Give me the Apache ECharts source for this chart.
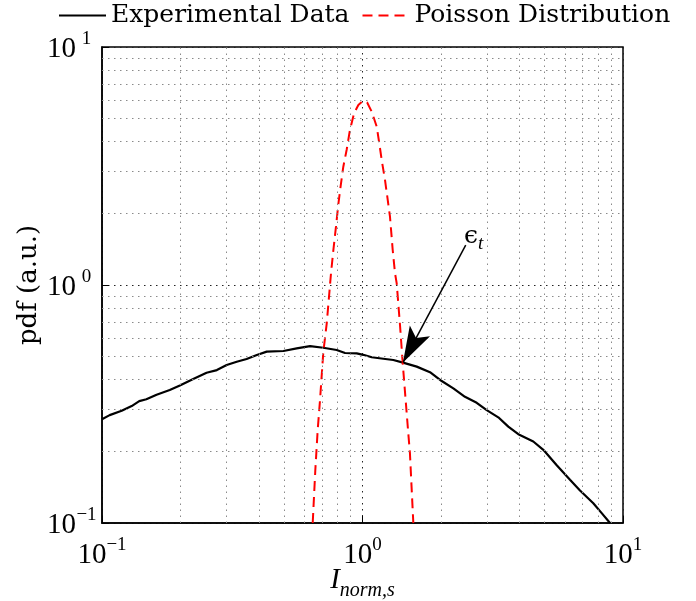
<!DOCTYPE html>
<html><head><meta charset="utf-8">
<script src="https://cdn.jsdelivr.net/npm/echarts@6/dist/echarts.min.js"></script>
<style>html,body{margin:0;padding:0;background:#fff}#c{width:696px;height:601px}</style>
</head><body><div id="c"></div>
<script>
// ---- data ----
const expX = [0.100,0.107,0.119,0.130,0.139,0.148,0.162,0.182,0.199,0.224,0.252,0.276,0.301,0.329,0.359,0.393,0.429,0.497,0.559,0.629,0.707,0.796,0.857,0.950,1.007,1.085,1.202,1.313,1.431,1.615,1.816,2.014,2.232,2.474,2.744,2.998,3.321,3.628,3.964,4.525,4.945,5.567,6.259,6.838,7.691,8.285,8.915];
const expY = [0.273,0.284,0.296,0.310,0.325,0.331,0.346,0.362,0.378,0.403,0.428,0.439,0.461,0.476,0.489,0.508,0.525,0.528,0.542,0.554,0.545,0.533,0.518,0.516,0.509,0.497,0.490,0.484,0.472,0.454,0.430,0.395,0.368,0.339,0.320,0.298,0.278,0.254,0.236,0.220,0.203,0.175,0.152,0.137,0.121,0.110,0.100];
const poisX = [0.644,0.659,0.673,0.687,0.707,0.729,0.757,0.773,0.791,0.807,0.827,0.844,0.869,0.895,0.928,0.964,1.007,1.043,1.085,1.134,1.160,1.185,1.220,1.245,1.275,1.306,1.333,1.353,1.393,1.427,1.499,1.521,1.567];
const poisY = [0.100,0.167,0.246,0.329,0.520,0.690,1.120,1.403,1.758,2.168,2.675,3.141,3.692,4.479,5.265,5.705,5.949,5.834,5.348,4.625,3.939,3.351,2.762,2.350,1.936,1.403,1.120,1.016,0.679,0.469,0.238,0.196,0.100];
const seriesNames = ['Experimental Data', 'Poisson Distribution'];
const minorGrid = [0.2,0.3,0.4,0.5,0.6,0.7,0.8,0.9,2,3,4,5,6,7,8,9];
const arrowFrom = [2.49, 1.47];
const arrowTo = [1.43, 0.472];
const annotation = ['ϵ', 't'];
const xName = ['I', 'norm,s'];
const yName = 'pdf (a.u.)';

// ---- chart ----
const chart = echarts.init(document.getElementById('c'));
const zip = (a, b) => a.map((v, i) => [v, b[i]]);
function expLabel(v) {
  const e = Math.round(Math.log10(v));
  return '{b|10}{s|' + (e < 0 ? '\u2212' + (-e) : e) + '}';
}
const serif = 'Liberation Serif';
const tickRichX = {
  b: {fontFamily: serif, fontSize: 29, color: '#000', lineHeight: 34, verticalAlign: 'bottom'},
  s: {fontFamily: serif, fontSize: 19, color: '#000', lineHeight: 10, verticalAlign: 'top'}
};
const tickRichY = {
  b: {fontFamily: serif, fontSize: 29, color: '#000', lineHeight: 34, verticalAlign: 'bottom'},
  s: {fontFamily: serif, fontSize: 19, color: '#000', lineHeight: 10, verticalAlign: 'top', width: 21, align: 'left'}
};
const dotted = [1.5, 4.5];
// narrow arrow head, tip at the centre of a square box
const arrowHead = 'path://M22,22L29,44L22,39L15,44Z M0,0L0.01,0L0,0.01Z M44,0L43.99,0L44,0.01Z';

chart.setOption({
  animation: false,
  backgroundColor: '#fff',
  grid: {left: 102, right: 73, top: 47, bottom: 78, show: true, borderColor: '#000', borderWidth: 1.5,
         backgroundColor: 'transparent', outerBoundsMode: 'none', containLabel: false},
  legend: {
    left: 58, top: 3, padding: 0, itemWidth: 47, itemHeight: 14, itemGap: 12,
    itemStyle: {opacity: 0},
    textStyle: {fontFamily: 'DejaVu Serif', fontSize: 25, color: '#000'},
    data: seriesNames
  },
  xAxis: {
    type: 'log', logBase: 10, min: 0.1, max: 10,
    axisLine: {lineStyle: {color: '#000', width: 1.5}},
    axisTick: {inside: true, length: 7, lineStyle: {color: '#000'}},
    splitLine: {show: true, lineStyle: {color: '#222', type: dotted, width: 1}},
    axisLabel: {margin: 13, formatter: expLabel, rich: tickRichX},
    name: '{i|' + xName[0] + '}{n|' + xName[1] + '}',
    nameLocation: 'middle', nameGap: 42, nameMoveOverlap: false,
    nameTextStyle: {rich: {
      i: {fontFamily: serif, fontStyle: 'italic', fontSize: 29, color: '#000', lineHeight: 30, verticalAlign: 'bottom'},
      n: {fontFamily: serif, fontStyle: 'italic', fontSize: 20, color: '#000', lineHeight: 22, verticalAlign: 'bottom', padding: [0, 0, -6, 0]}
    }}
  },
  yAxis: {
    type: 'log', logBase: 10, min: 0.1, max: 10,
    axisLine: {lineStyle: {color: '#000', width: 1.5}},
    axisTick: {inside: true, length: 7, lineStyle: {color: '#000'}},
    splitLine: {show: true, lineStyle: {color: '#222', type: dotted, width: 1}},
    axisLabel: {margin: 5, formatter: expLabel, rich: tickRichY},
    name: yName, nameLocation: 'middle', nameGap: 60, nameRotate: 90, nameMoveOverlap: false,
    nameTextStyle: {fontFamily: 'DejaVu Serif', fontSize: 26, color: '#000'}
  },
  series: [
    {
      name: 'minor-grid', type: 'line', data: [[1, 1]], symbol: 'none', silent: true, z: 1,
      lineStyle: {opacity: 0},
      markLine: {
        silent: true, symbol: ['none', 'none'], label: {show: false}, animation: false,
        lineStyle: {color: '#8a8a8a', type: dotted, width: 1},
        emphasis: {disabled: true},
        data: minorGrid.map(v => ({xAxis: v})).concat(minorGrid.map(v => ({yAxis: v})))
      }
    },
    {
      name: seriesNames[0], type: 'line', data: zip(expX, expY), symbol: 'none', z: 3,
      color: '#000', lineStyle: {color: '#000', width: 2.2},
      markLine: {
        silent: true, symbol: ['none', arrowHead], symbolSize: 72, animation: false,
        itemStyle: {color: '#000'},
        lineStyle: {color: '#000', width: 1.5, type: 'solid'},
        label: {
          show: true, position: 'start', distance: 0, offset: [8, 4],
          formatter: '{e|' + annotation[0] + '}{t|' + annotation[1] + '}',
          rich: {
            e: {fontFamily: 'DejaVu Serif', fontSize: 25, color: '#000', lineHeight: 26, verticalAlign: 'bottom'},
            t: {fontFamily: serif, fontStyle: 'italic', fontSize: 19, color: '#000', lineHeight: 18, verticalAlign: 'bottom', padding: [0, 0, -4, 0]}
          }
        },
        data: [[{coord: arrowFrom}, {coord: arrowTo}]]
      }
    },
    {
      name: seriesNames[1], type: 'line', data: zip(poisX, poisY), symbol: 'none', z: 4,
      color: '#ff0000', lineStyle: {color: '#ff0000', width: 2, type: [10, 6]}
    }
  ]
});
</script></body></html>
